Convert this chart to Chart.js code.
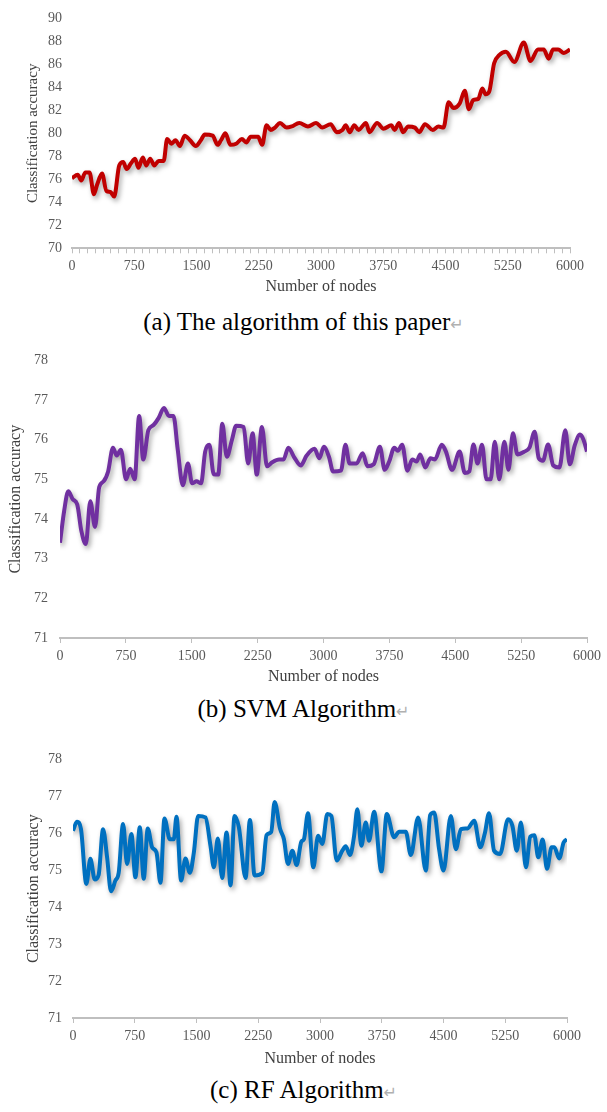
<!DOCTYPE html>
<html>
<head>
<meta charset="utf-8">
<script src="https://cdn.jsdelivr.net/npm/chart.js@4.4.0/dist/chart.umd.min.js"></script>
<style>
  body { margin: 0; background: #fff; width: 607px; height: 1112px; position: relative; overflow: hidden;
         font-family: "Liberation Serif", "Times New Roman", serif; }
  canvas { position: absolute; left: 0; }
  .cap { position: absolute; left: 0; width: 607px; text-align: center; font-size: 25px; line-height: 25px; color: #000; }
  .cap span { font-family: "DejaVu Sans", sans-serif; font-size: 16px; color: #b0b0b0; }
</style>
</head>
<body>
<canvas id="chartA" width="607" height="300" style="top:0px"></canvas>
<div class="cap" style="top:309px">(a) The algorithm of this paper<span>↵</span></div>
<canvas id="chartB" width="607" height="350" style="top:340px"></canvas>
<div class="cap" style="top:696px">(b) SVM Algorithm<span>↵</span></div>
<canvas id="chartC" width="607" height="335" style="top:740px"></canvas>
<div class="cap" style="top:1077px">(c) RF Algorithm<span>↵</span></div>

<script>
// x axis labels shared by the three panels
const xTickLabels = [0, 750, 1500, 2250, 3000, 3750, 4500, 5250, 6000];

// (a) proposed algorithm
const nodesA = [0, 69, 110, 162, 211, 264, 301, 362, 414, 463, 508, 569, 617, 658, 711, 760, 800, 853, 894, 942,
  991, 1044, 1105, 1146, 1198, 1247, 1300, 1357, 1422, 1491, 1552, 1600, 1694, 1755, 1795, 1848, 1909, 1978, 2047, 2100,
  2153, 2242, 2291, 2344, 2393, 2445, 2506, 2587, 2648, 2738, 2843, 2941, 3014, 3116, 3189, 3258, 3298, 3347, 3400, 3453,
  3542, 3583, 3676, 3753, 3847, 3887, 3940, 3989, 4050, 4131, 4184, 4253, 4346, 4415, 4476, 4537, 4598, 4671, 4732, 4781,
  4834, 4895, 4943, 4984, 5025, 5086, 5147, 5228, 5329, 5443, 5524, 5614, 5683, 5743, 5796, 5857, 5926, 6000];
const accuracyA = [76.1, 76.4, 75.9, 76.6, 76.6, 74.7, 75.5, 76.5, 75.0, 74.9, 74.5, 77.2, 77.5, 76.9, 77.4, 77.8, 77.0, 77.9, 77.2, 77.8,
  77.2, 77.6, 77.6, 79.5, 79.1, 79.4, 78.9, 79.8, 79.4, 78.9, 79.4, 79.9, 79.8, 79.0, 79.4, 80.0, 79.0, 79.1, 79.5, 79.2,
  79.7, 79.7, 79.0, 80.7, 80.3, 80.5, 80.9, 80.5, 80.6, 80.9, 80.6, 80.9, 80.5, 80.8, 80.1, 80.3, 80.7, 80.1, 80.7, 80.3,
  80.9, 80.1, 80.9, 80.4, 80.7, 80.3, 80.9, 80.1, 80.6, 80.5, 80.1, 80.8, 80.3, 80.6, 80.5, 82.7, 82.2, 82.6, 83.7, 82.1,
  82.9, 83.0, 83.9, 83.4, 83.6, 86.1, 86.8, 87.1, 86.2, 87.9, 86.3, 87.3, 87.3, 86.5, 87.3, 87.3, 87.0, 87.3];

// (b) SVM
const nodesB = [0, 47, 94, 145, 196, 243, 294, 345, 399, 446, 497, 548, 603, 646, 693, 752, 799, 850, 901, 948,
  1006, 1065, 1124, 1183, 1241, 1292, 1339, 1398, 1457, 1504, 1555, 1606, 1653, 1700, 1750, 1801, 1848, 1899, 1958, 2005,
  2091, 2142, 2193, 2240, 2299, 2357, 2416, 2494, 2545, 2600, 2663, 2741, 2808, 2898, 2953, 3004, 3062, 3109, 3199, 3250,
  3297, 3376, 3446, 3501, 3571, 3642, 3697, 3748, 3806, 3846, 3896, 3955, 4010, 4061, 4100, 4159, 4218, 4268, 4347, 4394,
  4464, 4550, 4609, 4660, 4707, 4754, 4805, 4856, 4903, 4950, 5001, 5059, 5106, 5157, 5208, 5287, 5345, 5404, 5451, 5498,
  5557, 5616, 5686, 5753, 5804, 5862, 5921, 5960, 6000];
const accuracyB = [73.4, 74.2, 74.7, 74.5, 74.37, 73.7, 73.37, 74.45, 73.8, 74.8, 74.95, 75.2, 75.8, 75.6, 75.75, 75.0, 75.27, 75.0, 76.6, 75.5,
  76.24, 76.37, 76.55, 76.8, 76.6, 76.6, 75.78, 74.85, 75.4, 74.9, 74.95, 74.9, 75.7, 75.87, 75.13, 75.12, 76.4, 75.57, 76.0, 76.35,
  76.32, 75.4, 76.16, 75.12, 76.32, 75.33, 75.43, 75.5, 75.5, 75.8, 75.57, 75.35, 75.6, 75.77, 75.53, 75.82, 75.57, 75.2, 75.22, 75.87,
  75.4, 75.4, 75.66, 75.33, 75.38, 75.82, 75.24, 75.45, 75.8, 75.72, 75.87, 75.22, 75.5, 75.45, 75.63, 75.3, 75.53, 75.5, 75.87, 75.7,
  75.24, 75.7, 75.16, 75.2, 75.88, 75.4, 75.87, 75.0, 75.0, 75.95, 75.0, 75.95, 75.24, 76.16, 75.63, 75.7, 75.8, 76.2, 75.53, 75.47,
  75.88, 75.35, 75.3, 76.24, 75.38, 75.87, 76.13, 76.0, 75.7];

// (c) RF
const nodesC = [0, 49, 97, 162, 211, 264, 312, 365, 414, 462, 515, 555, 608, 657, 709, 758, 811, 859, 908, 961,
  1014, 1062, 1111, 1176, 1224, 1257, 1313, 1366, 1419, 1468, 1520, 1609, 1670, 1711, 1759, 1812, 1865, 1913, 1962, 2015,
  2096, 2149, 2205, 2299, 2351, 2408, 2449, 2514, 2562, 2611, 2664, 2716, 2773, 2805, 2854, 2919, 2976, 3028, 3089, 3138,
  3203, 3271, 3312, 3365, 3413, 3454, 3502, 3556, 3596, 3657, 3746, 3811, 3900, 3961, 4042, 4103, 4192, 4285, 4338, 4387,
  4447, 4500, 4589, 4650, 4711, 4792, 4873, 4946, 5002, 5053, 5114, 5187, 5284, 5337, 5390, 5440, 5501, 5554, 5603, 5651,
  5704, 5757, 5813, 5846, 5906, 5959, 6000];
const accuracyC = [76.07, 76.31, 76.11, 74.63, 75.31, 74.75, 74.88, 76.11, 75.35, 74.43, 74.72, 74.93, 76.25, 75.17, 75.98, 74.81, 76.16, 74.77, 76.13, 75.62,
  75.48, 74.66, 76.4, 75.84, 75.84, 76.45, 74.72, 75.32, 74.93, 75.48, 76.47, 76.43, 75.66, 75.08, 75.86, 74.79, 76.02, 74.59, 76.47, 76.16,
  74.79, 76.36, 74.86, 74.93, 75.95, 76.04, 76.85, 76.13, 75.84, 75.17, 75.53, 75.14, 75.77, 75.84, 76.54, 75.08, 75.93, 75.71, 76.52, 76.47,
  75.26, 75.53, 75.65, 75.41, 75.91, 76.65, 75.66, 76.29, 75.8, 76.58, 74.97, 76.52, 75.89, 76.04, 76.04, 75.41, 76.43, 74.99, 76.49, 76.56,
  75.56, 74.99, 76.47, 75.57, 76.11, 76.13, 76.34, 75.62, 76.0, 76.54, 75.53, 75.44, 76.38, 76.2, 75.53, 76.29, 75.08, 75.91, 75.95, 75.35,
  75.83, 75.04, 75.62, 75.62, 75.32, 75.75, 75.84];

Chart.defaults.font.family = "'Liberation Serif', 'Times New Roman', serif";
Chart.defaults.color = '#595959';

// soft drop shadow under the lines, like the office chart
const lineShadow = {
  id: 'lineShadow',
  beforeDatasetsDraw(chart) {
    const c = chart.ctx;
    c.save();
    c.shadowColor = 'rgba(0,0,0,0.35)';
    c.shadowBlur = 5;
    c.shadowOffsetX = 2;
    c.shadowOffsetY = 3;
  },
  afterDatasetsDraw(chart) {
    chart.ctx.restore();
  }
};

function drawPanel(id, nodes, acc, color, p) {
  return new Chart(document.getElementById(id), {
    type: 'line',
    data: {
      datasets: [{
        data: nodes.map((n, i) => ({ x: n, y: acc[i] })),
        borderColor: color,
        borderWidth: 4,
        pointRadius: 0,
        cubicInterpolationMode: 'monotone',
        fill: false
      }]
    },
    options: {
      responsive: false,
      animation: false,
      events: [],
      layout: { padding: { top: p.top, right: p.right, left: 0, bottom: 0 } },
      plugins: { legend: { display: false }, tooltip: { enabled: false } },
      scales: {
        x: {
          type: 'linear', min: 0, max: 6000,
          afterFit: s => { s.height = p.xHeight; },
          grid: { display: true, drawOnChartArea: false, drawTicks: true, tickLength: 5, color: '#bfbfbf', lineWidth: 1 },
          border: { display: true, color: '#bfbfbf', width: 2 },
          ticks: {
            stepSize: p.xStep, autoSkip: false, maxRotation: 0, padding: p.xPad,
            font: { size: 14 }, color: '#595959',
            callback: v => xTickLabels.includes(v) ? String(v) : ''
          },
          title: { display: true, text: 'Number of nodes', color: '#404040',
                   font: { size: 16 }, padding: { top: 0, bottom: p.xTitlePad } }
        },
        y: {
          min: p.yMin, max: p.yMax,
          afterFit: s => { s.width = p.left; },
          grid: { display: false, drawTicks: false },
          border: { display: false },
          ticks: { stepSize: p.yStep, padding: p.yPad, font: { size: 14 }, color: '#595959' },
          title: { display: true, text: 'Classification accuracy', color: '#404040',
                   font: { size: p.yTitleSize }, padding: { top: p.yTitlePad, bottom: 0 } }
        }
      }
    },
    plugins: [lineShadow]
  });
}

drawPanel('chartA', nodesA, accuracyA, '#c00000', {
  top: 12.7, right: 37, left: 72, xHeight: 51.7, xStep: 93.75, xPad: 5, xTitlePad: 3.4,
  yMin: 70, yMax: 90, yStep: 2, yPad: 10, yTitleSize: 15, yTitlePad: 24
});
drawPanel('chartB', nodesB, accuracyB, '#7030a0', {
  top: 18, right: 20, left: 60, xHeight: 52, xStep: 750, xPad: 5.3, xTitlePad: 3.4,
  yMin: 71, yMax: 78, yStep: 1, yPad: 12, yTitleSize: 16, yTitlePad: 6.4
});
drawPanel('chartC', nodesC, accuracyC, '#0070c0', {
  top: 17.8, right: 40, left: 73, xHeight: 57, xStep: 750, xPad: 4.6, xTitlePad: 6.4,
  yMin: 71, yMax: 78, yStep: 1, yPad: 11, yTitleSize: 16, yTitlePad: 24.4
});
</script>
</body>
</html>
